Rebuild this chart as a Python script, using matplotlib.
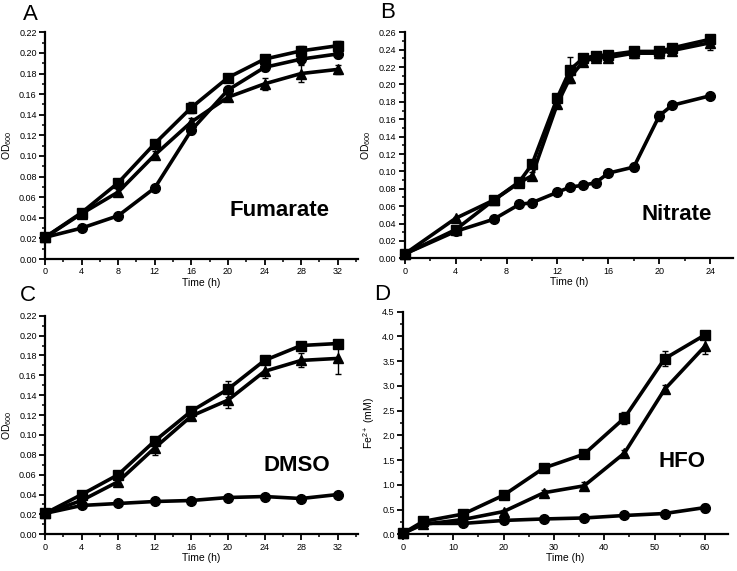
import numpy as np
import matplotlib
matplotlib.use('Agg')
import matplotlib.pyplot as plt
from matplotlib.ticker import MultipleLocator

plt.rcParams['font.family'] = ['Liberation Sans', 'DejaVu Sans']
plt.rcParams['mathtext.default'] = 'regular'

# A - Fumarate
t_a = [0, 4, 8, 12, 16, 20, 24, 28, 32]
fum_sq = [0.021, 0.045, 0.074, 0.112, 0.147, 0.176, 0.194, 0.202, 0.207]
fum_ci = [0.021, 0.030, 0.042, 0.069, 0.125, 0.164, 0.186, 0.194, 0.199]
fum_tr = [0.021, 0.044, 0.065, 0.101, 0.133, 0.157, 0.170, 0.180, 0.184]
fum_sq_err = [0.002, 0.002, 0.002, 0.003, 0.005, 0.003, 0.004, 0.005, 0.005]
fum_ci_err = [0.002, 0.002, 0.002, 0.002, 0.004, 0.004, 0.004, 0.005, 0.004]
fum_tr_err = [0.002, 0.004, 0.003, 0.004, 0.004, 0.003, 0.006, 0.008, 0.004]

# B - Nitrate
t_b = [0, 4, 7, 9, 10, 12, 13, 14, 15, 16, 18, 20, 21, 24]
nit_sq = [0.005, 0.033, 0.067, 0.088, 0.108, 0.185, 0.217, 0.230, 0.233, 0.234, 0.238, 0.238, 0.242, 0.252]
nit_ci = [0.005, 0.031, 0.045, 0.062, 0.064, 0.076, 0.082, 0.084, 0.087, 0.098, 0.105, 0.164, 0.176, 0.187]
nit_tr = [0.005, 0.046, 0.067, 0.087, 0.095, 0.178, 0.208, 0.226, 0.231, 0.231, 0.236, 0.236, 0.239, 0.248]
nit_sq_err = [0.001, 0.002, 0.002, 0.003, 0.003, 0.003, 0.015, 0.005, 0.003, 0.004, 0.004, 0.004, 0.003, 0.003]
nit_ci_err = [0.001, 0.002, 0.002, 0.002, 0.002, 0.002, 0.002, 0.002, 0.002, 0.003, 0.005, 0.006, 0.003, 0.002]
nit_tr_err = [0.001, 0.002, 0.003, 0.004, 0.004, 0.004, 0.005, 0.004, 0.004, 0.005, 0.005, 0.005, 0.004, 0.008]

# C - DMSO
t_c = [0, 4, 8, 12, 16, 20, 24, 28, 32]
dmso_sq = [0.021, 0.040, 0.060, 0.094, 0.124, 0.146, 0.175, 0.190, 0.192]
dmso_ci = [0.021, 0.029, 0.031, 0.033, 0.034, 0.037, 0.038, 0.036, 0.040]
dmso_tr = [0.021, 0.034, 0.053, 0.087, 0.119, 0.135, 0.164, 0.175, 0.177]
dmso_sq_err = [0.002, 0.002, 0.002, 0.003, 0.004, 0.008, 0.003, 0.003, 0.003]
dmso_ci_err = [0.001, 0.001, 0.001, 0.001, 0.001, 0.002, 0.002, 0.002, 0.002]
dmso_tr_err = [0.002, 0.003, 0.004, 0.007, 0.004, 0.008, 0.007, 0.007, 0.016]

# D - HFO
t_d = [0, 4, 12, 20, 28, 36, 44, 52, 60]
hfo_sq = [0.02, 0.26, 0.41, 0.79, 1.34, 1.62, 2.35, 3.55, 4.03]
hfo_ci = [0.02, 0.22, 0.22, 0.28, 0.31, 0.33, 0.38, 0.42, 0.54]
hfo_tr = [0.02, 0.20, 0.30, 0.46, 0.84, 0.98, 1.64, 2.93, 3.80]
hfo_sq_err = [0.01, 0.03, 0.03, 0.04, 0.04, 0.05, 0.13, 0.15, 0.05]
hfo_ci_err = [0.01, 0.02, 0.02, 0.02, 0.02, 0.03, 0.03, 0.04, 0.08]
hfo_tr_err = [0.01, 0.03, 0.03, 0.04, 0.06, 0.07, 0.06, 0.08, 0.15]


def draw_panel(ax, t, series, xlim, ylim, xmaj, xmin, ymaj, ymin, yfmt):
    for vals, errs, mk in series:
        ax.errorbar(t, vals, yerr=errs, color='black', marker=mk, markersize=7,
                    linewidth=2.6, elinewidth=1.0, capsize=2.5, capthick=1.0)
    ax.set_xlim(*xlim)
    ax.set_ylim(*ylim)
    ax.xaxis.set_major_locator(MultipleLocator(xmaj))
    ax.xaxis.set_minor_locator(MultipleLocator(xmin))
    ax.yaxis.set_major_locator(MultipleLocator(ymaj))
    ax.yaxis.set_minor_locator(MultipleLocator(ymin))
    ax.yaxis.set_major_formatter(yfmt)
    for s in ['top', 'right']:
        ax.spines[s].set_visible(False)
    for s in ['left', 'bottom']:
        ax.spines[s].set_linewidth(1.6)
    ax.tick_params(which='major', direction='out', length=4, width=1.3,
                   labelsize=6.5, pad=2)
    ax.tick_params(which='minor', direction='out', length=2.5, width=1.1)
    ax.set_xlabel('Time (h)', fontsize=7.5, labelpad=1)
    for ln in ax.get_lines():
        ln.set_clip_on(False)


fig = plt.figure(figsize=(7.37, 5.71), dpi=100)

ax_a = fig.add_axes([0.0611, 0.5464, 0.4244, 0.397])
ax_b = fig.add_axes([0.5491, 0.5476, 0.4456, 0.3958])
ax_c = fig.add_axes([0.0611, 0.0643, 0.4244, 0.3828])
ax_d = fig.add_axes([0.5468, 0.0643, 0.441, 0.3898])

draw_panel(ax_a, t_a, [(fum_sq, fum_sq_err, 's'), (fum_ci, fum_ci_err, 'o'), (fum_tr, fum_tr_err, '^')],
           (0, 34.2), (0, 0.22), 4, 2, 0.02, 0.01, '{x:.2f}')
draw_panel(ax_b, t_b, [(nit_sq, nit_sq_err, 's'), (nit_ci, nit_ci_err, 'o'), (nit_tr, nit_tr_err, '^')],
           (0, 25.8), (0, 0.26), 4, 2, 0.02, 0.01, '{x:.2f}')
draw_panel(ax_c, t_c, [(dmso_sq, dmso_sq_err, 's'), (dmso_ci, dmso_ci_err, 'o'), (dmso_tr, dmso_tr_err, '^')],
           (0, 34.2), (0, 0.22), 4, 2, 0.02, 0.01, '{x:.2f}')
draw_panel(ax_d, t_d, [(hfo_sq, hfo_sq_err, 's'), (hfo_ci, hfo_ci_err, 'o'), (hfo_tr, hfo_tr_err, '^')],
           (0, 64.6), (0, 4.5), 10, 5, 0.5, 0.25, '{x:.1f}')

for ax in [ax_a, ax_b, ax_c]:
    ax.set_ylabel('OD$_{600}$', fontsize=7.5, labelpad=4)
ax_d.set_ylabel('Fe$^{2+}$ (mM)', fontsize=7.5, labelpad=4)

# condensed bold labels inside the panels
big = dict(fontsize=16, fontweight='bold', ha='center', va='center')
ax_a.text(25.6, 0.0475, 'Fumarate', **big)
ax_b.text(21.4, 0.050, 'Nitrate', **big)
ax_c.text(27.5, 0.0697, 'DMSO', **big)
ax_d.text(55.5, 1.47, 'HFO', **big)

for lab, x, y in [('A', 30, 14), ('B', 388, 13), ('C', 28, 296), ('D', 382, 294)]:
    fig.text(x / 737, 1 - y / 571, lab, fontsize=16, ha='center', va='center')

fig.savefig('out.png', dpi=100)
